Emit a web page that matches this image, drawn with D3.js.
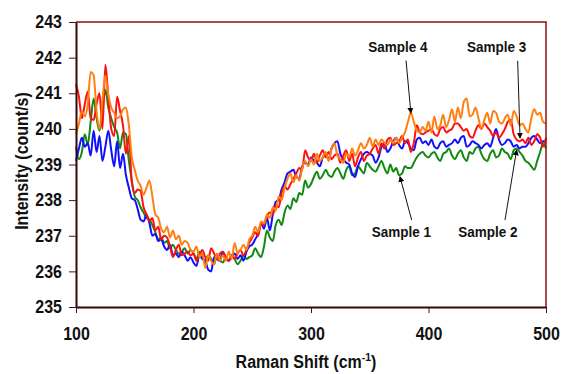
<!DOCTYPE html>
<html>
<head>
<meta charset="utf-8">
<script src="https://cdn.jsdelivr.net/npm/d3@7"></script>
<style>
  body { margin: 0; background: #fff; }
  text { font-family: "Liberation Sans", Arial, sans-serif; font-weight: bold; }
</style>
</head>
<body>
<div id="chart"></div>
<script>
// Raman spectra, 100-500 cm-1, sampled every 2.5 cm-1
var shiftStart = 100, shiftStep = 2.5;

var sample1 = [ // green
  239.5, 239.15, 239.35, 239.85, 239.55, 240.2, 240.85, 240.3, 239.95, 240.5,
  241.1, 240.6, 240.3, 240.05, 239.9, 239.45, 239.9, 239.85, 239.1, 238.55,
  238.1, 238.0, 237.8, 237.65, 237.5, 237.45, 237.3, 237.1, 236.9, 236.95,
  236.8, 236.85, 236.65, 236.75, 236.6, 236.5, 236.55, 236.65, 236.5, 236.6,
  236.5, 236.35, 236.55, 236.4, 236.3, 236.45, 236.35, 236.2, 236.45, 236.3,
  236.25, 236.4, 236.3, 236.45, 236.35, 236.2, 236.3, 236.45, 236.35, 236.4,
  236.45, 236.65, 236.5, 236.4, 236.7, 237.15, 236.95, 236.85, 237.3, 237.45,
  237.3, 237.65, 237.85, 237.75, 238.05, 237.95, 238.2, 238.15, 238.55, 238.35,
  238.45, 238.65, 238.8, 238.6, 238.7, 238.85, 238.7, 238.65, 238.8, 238.9,
  238.75, 238.6, 238.85, 238.95, 238.7, 238.75, 238.95, 238.85, 238.75, 239.05,
  238.95, 238.85, 238.8, 238.95, 239.1, 238.9, 238.75, 239.0, 238.8, 238.9,
  238.7, 238.75, 238.95, 238.9, 238.9, 239.05, 239.2, 239.3, 239.35, 239.25,
  239.2, 239.3, 239.35, 239.2, 239.1, 239.3, 239.35, 239.45, 239.25, 239.15,
  239.3, 239.4, 239.2, 239.1, 239.35, 239.3, 239.45, 239.5, 239.3, 239.15,
  239.1, 239.3, 239.4, 239.2, 239.25, 239.45, 239.35, 239.3, 239.15, 239.4,
  239.45, 239.35, 239.25, 239.1, 239.05, 238.95, 238.85, 239.1, 239.35, 239.6, 239.45
];

var sample2 = [ // blue
  239.1, 239.45, 239.75, 239.5, 239.6, 239.25, 239.95, 239.35, 239.8, 239.1,
  239.5, 239.95, 239.4, 238.95, 239.65, 238.9, 239.3, 238.7, 238.35, 238.05,
  238.0, 237.75, 237.45, 237.4, 237.6, 237.35, 237.0, 237.05, 236.85, 236.9,
  236.7, 236.6, 236.75, 236.45, 236.5, 236.4, 236.55, 236.45, 236.3, 236.4,
  236.25, 236.15, 236.45, 236.35, 236.3, 236.05, 236.0, 236.4, 236.35, 236.3,
  236.55, 236.35, 236.3, 236.4, 236.5, 236.35, 236.45, 236.3, 236.55, 236.7,
  236.75, 236.9, 237.05, 237.35, 237.2, 237.5, 237.15, 237.6, 237.95, 238.0,
  238.3, 238.5, 238.75, 238.8, 238.85, 238.65, 238.6, 238.95, 239.05, 239.0,
  239.2, 239.1, 239.05, 238.95, 239.2, 239.3, 239.15, 239.45, 239.6, 239.65,
  239.3, 239.15, 239.05, 239.0, 238.75, 238.65, 238.95, 239.15, 239.3, 239.35,
  239.3, 239.25, 239.05, 239.2, 239.5, 239.6, 239.35, 239.45, 239.65, 239.75,
  239.55, 239.45, 239.65, 239.6, 239.45, 239.4, 239.7, 239.75, 239.6, 239.65,
  239.55, 239.7, 239.5, 239.45, 239.6, 239.65, 239.5, 239.55, 239.6, 239.7,
  239.6, 239.75, 239.8, 239.5, 239.55, 239.65, 239.6, 239.55, 239.45, 239.55,
  239.6, 239.5, 239.75, 240.0, 239.7, 239.55, 239.6, 239.7, 239.65, 239.5,
  239.55, 239.45, 239.5, 239.5, 239.6, 239.75, 239.8, 239.7, 239.6, 239.65, 239.65
];

var sample3 = [ // red
  241.25, 240.9, 240.3, 240.7, 241.05, 240.3, 240.25, 240.7, 241.0, 240.0,
  241.8, 240.9, 240.0, 239.8, 240.9, 240.5, 240.1, 239.3, 239.8, 238.5,
  238.2, 238.3, 238.25, 237.8, 237.6, 237.4, 237.5, 237.15, 237.25, 236.9,
  237.0, 236.95, 236.7, 236.4, 236.6, 236.75, 236.45, 236.5, 236.55, 236.45,
  236.5, 236.3, 236.45, 236.6, 236.4, 236.3, 236.65, 236.5, 236.35, 236.5,
  236.55, 236.4, 236.3, 236.45, 236.35, 236.5, 236.6, 236.45, 236.6, 236.8,
  236.95, 237.1, 237.0, 237.35, 237.3, 237.55, 237.65, 237.6, 237.85, 237.8,
  238.2, 238.4, 238.3, 238.45, 238.6, 238.75, 238.9, 238.85, 239.4, 239.2,
  239.1, 239.3, 239.05, 239.25, 239.4, 239.2, 239.35, 239.15, 239.25, 239.3,
  239.05, 239.25, 239.4, 239.1, 239.3, 238.95, 239.2, 239.35, 239.1, 239.25,
  239.3, 239.45, 239.55, 239.3, 239.6, 239.45, 239.7, 239.75, 239.55, 239.6,
  239.65, 239.8, 239.6, 239.7, 239.35, 239.6, 240.1, 239.9, 239.85, 239.9,
  239.95, 240.0, 239.85, 239.8, 240.0, 240.05, 239.9, 239.95, 240.0, 240.15,
  240.15, 240.05, 239.95, 240.0, 239.8, 239.75, 239.95, 240.1, 240.0, 240.15,
  240.05, 239.95, 239.8, 239.9, 239.75, 239.85, 240.0, 240.2, 240.25, 239.85,
  239.7, 239.65, 239.7, 239.6, 239.75, 239.55, 239.65, 239.85, 239.75, 239.5, 239.75
];

var sample4 = [ // orange
  239.85, 240.15, 240.5, 240.35, 240.7, 241.6, 241.5, 240.5, 240.0, 240.8,
  241.5, 240.95, 240.6, 240.45, 240.3, 240.35, 240.55, 240.6, 240.1, 239.2,
  238.85, 238.55, 238.4, 238.15, 238.35, 238.55, 238.1, 237.6, 237.5, 237.2,
  237.1, 237.25, 236.95, 237.15, 236.9, 237.0, 236.75, 236.85, 236.8, 236.6,
  236.55, 236.7, 236.4, 236.5, 236.1, 236.45, 236.3, 236.2, 236.5, 236.3,
  236.45, 236.3, 236.55, 236.35, 236.8, 236.5, 236.6, 236.75, 236.6, 236.9,
  237.0, 237.25, 237.1, 237.4, 237.35, 237.6, 237.5, 237.8, 237.7, 238.1,
  238.0, 238.35, 238.6, 238.75, 238.5, 238.7, 238.55, 238.9, 239.1, 238.95,
  239.15, 239.0, 239.3, 239.1, 239.2, 239.35, 239.1, 239.45, 239.6, 239.25,
  239.15, 239.05, 239.3, 239.2, 239.45, 239.25, 239.4, 239.6, 239.45, 239.55,
  239.75, 239.5, 239.7, 239.55, 239.7, 239.6, 239.55, 239.7, 239.6, 239.75,
  239.6, 239.75, 239.9, 240.2, 240.45, 240.2, 239.95, 239.9, 240.05, 239.95,
  240.2, 239.9, 240.35, 240.0, 240.1, 240.4, 240.05, 240.25, 240.55, 240.2,
  240.6, 240.3, 240.75, 240.85, 240.35, 240.4, 240.6, 240.3, 240.0, 240.25,
  240.45, 240.15, 240.5, 240.45, 240.2, 240.15, 240.3, 240.4, 240.1, 240.5,
  240.35, 240.1, 240.15, 240.0, 239.9, 240.3, 240.55, 240.4, 240.45, 240.2, 240.15
];

var seriesNames = ["Sample 1", "Sample 2", "Sample 3", "Sample 4"];
var seriesColors = ["#118a11", "#1010ff", "#ff1010", "#ff7f10"];
var xTicks = [100, 200, 300, 400, 500];
var yTicks = [235, 236, 237, 238, 239, 240, 241, 242, 243];

// label anchor (shift, intensity), arrow start, arrow tip
var labelPos = [
  { name: "Sample 1", lx: 377, ly: 236.97, sx: 385.7, sy: 237.44, tx: 375.7, ty: 238.66 },
  { name: "Sample 2", lx: 450.6, ly: 236.97, sx: 465.1, sy: 237.44, tx: 475, ty: 239.41 },
  { name: "Sample 3", lx: 458, ly: 242.17, sx: 475.9, sy: 241.91, tx: 477.9, ty: 239.74 },
  { name: "Sample 4", lx: 374, ly: 242.17, sx: 380.9, sy: 241.92, tx: 385, ty: 240.44 }
];

var w = 561, h = 374;
var plotLeft = 76, plotRight = 546, plotTop = 22, plotBottom = 307;
var stretch = "scale(1,1.12)"; // the original type is a bit tall for its width

var svg = d3.select("#chart").append("svg")
    .attr("width", w)
    .attr("height", h);

var defs = svg.append("defs");
defs.append("marker")
    .attr("id", "arrow")
    .attr("viewBox", "0 0 10 10")
    .attr("refX", 9).attr("refY", 5)
    .attr("markerWidth", 6).attr("markerHeight", 6)
    .attr("markerUnits", "userSpaceOnUse")
    .attr("orient", "auto")
    .append("path")
    .attr("d", "M0,0 L10,5 L0,10 z")
    .attr("fill", "#000");

var xScale = d3.scaleLinear().domain([100, 500]).range([plotLeft, plotRight]);
var yScale = d3.scaleLinear().domain([235, 243]).range([plotBottom, plotTop]);

var allSeries = [sample1, sample2, sample3, sample4];

var line = d3.line()
    .x(function (d, i) { return xScale(shiftStart + i * shiftStep); })
    .y(function (d) { return yScale(d); })
    .curve(d3.curveMonotoneX);

svg.selectAll(".series")
    .data(allSeries)
    .enter()
    .append("path")
    .attr("class", "series")
    .attr("d", line)
    .attr("fill", "none")
    .attr("stroke", function (d, i) { return seriesColors[i]; })
    .attr("stroke-width", 2)
    .attr("stroke-linejoin", "round");

// plot frame (top and right)
svg.append("path")
    .attr("d", "M" + plotLeft + "," + plotTop + "H" + plotRight + "V" + plotBottom)
    .attr("fill", "none")
    .attr("stroke", "#8b1010")
    .attr("stroke-width", 1.5);

// axes
var xAxis = d3.axisBottom(xScale).tickValues(xTicks).tickSize(6).tickSizeOuter(0).tickPadding(12);
var yAxis = d3.axisLeft(yScale).tickValues(yTicks).tickSize(7).tickSizeOuter(0).tickPadding(7);

var gx = svg.append("g")
    .attr("transform", "translate(0," + plotBottom + ")")
    .call(xAxis);
var gy = svg.append("g")
    .attr("transform", "translate(" + plotLeft + ",0)")
    .call(yAxis);

[gx, gy].forEach(function (g) {
    g.select(".domain").attr("stroke", "#3a0505").attr("stroke-width", 2);
    g.selectAll(".tick line").attr("stroke", "#222").attr("stroke-width", 1);
    g.selectAll(".tick text")
        .attr("fill", "#111")
        .attr("transform", stretch)
        .style("font-size", "16px")
        .style("font-family", "'Liberation Sans', Arial, sans-serif")
        .style("font-weight", "bold");
});

// axis titles
svg.append("text")
    .attr("transform", "translate(22,161) rotate(-90) " + stretch)
    .attr("text-anchor", "middle")
    .attr("dy", "0.35em")
    .style("font-size", "16px")
    .attr("fill", "#111")
    .text("Intensity (count/s)");

var xt = svg.append("text")
    .attr("transform", "translate(306,368) " + stretch)
    .attr("text-anchor", "middle")
    .style("font-size", "16px")
    .attr("fill", "#111");
xt.append("tspan").text("Raman Shift (cm");
xt.append("tspan").attr("dy", -6).style("font-size", "10.5px").text("-1");
xt.append("tspan").attr("dy", 6).text(")");

// annotations
svg.selectAll(".arrow")
    .data(labelPos)
    .enter()
    .append("line")
    .attr("class", "arrow")
    .attr("x1", function (d) { return xScale(d.sx); })
    .attr("y1", function (d) { return yScale(d.sy); })
    .attr("x2", function (d) { return xScale(d.tx); })
    .attr("y2", function (d) { return yScale(d.ty); })
    .attr("stroke", "#111")
    .attr("stroke-width", 1)
    .attr("marker-end", "url(#arrow)");

svg.selectAll(".label")
    .data(labelPos)
    .enter()
    .append("text")
    .attr("class", "label")
    .attr("transform", function (d) {
        return "translate(" + xScale(d.lx) + "," + yScale(d.ly) + ") scale(1,1.06)";
    })
    .attr("text-anchor", "middle")
    .style("font-size", "13.5px")
    .attr("fill", "#111")
    .text(function (d) { return d.name; });
</script>
</body>
</html>
